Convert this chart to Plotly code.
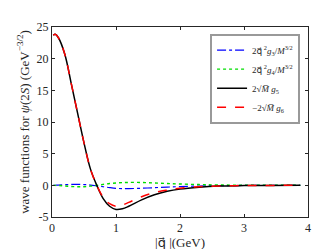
import plotly.graph_objects as go

q = [0.02, 0.05, 0.1, 0.2, 0.3, 0.4, 0.5, 0.6, 0.7, 0.8, 0.9, 1.0, 1.1, 1.2, 1.4, 1.6, 1.8, 2.0, 2.3, 2.6, 3.0, 3.4, 3.88]
g3 = [0.0, 0.01, 0.04, 0.1, 0.15, 0.16, 0.12, 0.04, -0.08, -0.22, -0.36, -0.47, -0.52, -0.52, -0.46, -0.37, -0.28, -0.2, -0.11, -0.06, -0.02, -0.01, 0.0]
g4 = [0.0, -0.01, -0.03, -0.1, -0.18, -0.23, -0.22, -0.13, 0.0, 0.15, 0.28, 0.37, 0.43, 0.46, 0.45, 0.38, 0.29, 0.21, 0.12, 0.06, 0.02, 0.01, 0.0]
g5 = [23.7, 23.85, 23.3, 20.7, 16.1, 11.4, 6.7, 2.6, 0.0, -2.1, -3.3, -3.8, -3.7, -3.3, -2.3, -1.5, -0.95, -0.6, -0.3, -0.12, -0.04, -0.01, 0.0]
g6 = [23.7, 23.85, 23.3, 20.7, 16.1, 11.4, 6.7, 2.6, 0.0, -1.9, -2.9, -3.3, -3.1, -2.7, -1.8, -1.15, -0.75, -0.45, -0.22, -0.1, -0.03, -0.01, 0.0]

xticks = [0, 1, 2, 3, 4]
yticks = [-5, 0, 5, 10, 15, 20, 25]
yticktext = ["-5", "0", "5", "10", "15", "20", "25"]

serif = "Liberation Serif, DejaVu Serif, serif"
qvec = "<span style='font-family:DejaVu Sans'>q⃗</span>"

fig = go.Figure()
fig.add_trace(go.Scatter(x=q, y=g3, mode="lines", line=dict(color="#0000ff", dash="dashdot", width=1.2, shape="spline"),
                         name="2" + qvec + "<sup> 2</sup><i>g</i><sub>3</sub>/<i>M</i><sup>3/2</sup>"))
fig.add_trace(go.Scatter(x=q, y=g4, mode="lines", line=dict(color="#00dd00", dash="dot", width=1.4, shape="spline"),
                         name="2" + qvec + "<sup> 2</sup><i>g</i><sub>4</sub>/<i>M</i><sup>3/2</sup>"))
fig.add_trace(go.Scatter(x=q, y=g5, mode="lines", line=dict(color="#000000", width=1.5, shape="spline"),
                         name="2√<i>M̅</i> <i>g</i><sub>5</sub>"))
fig.add_trace(go.Scatter(x=q, y=g6, mode="lines", line=dict(color="#ff0000", dash="dash", width=1.5, shape="spline"),
                         name="−2√<i>M̅</i> <i>g</i><sub>6</sub>"))

axis_common = dict(showline=True, linecolor="#262626", linewidth=1, mirror="ticks", ticks="inside",
                   ticklen=3, tickcolor="#262626", showgrid=False, zeroline=False,
                   tickfont=dict(family=serif, size=12, color="#262626"))

fig.update_layout(
    width=332, height=249,
    margin=dict(l=44, r=32, t=17, b=34),
    paper_bgcolor="white", plot_bgcolor="white",
    font=dict(family=serif, color="#262626"),
    xaxis=dict(range=[0, 4], tickvals=xticks,
               title=dict(text="|" + qvec + " |(GeV)", font=dict(family=serif, size=13), standoff=0), **axis_common),
    yaxis=dict(range=[-5, 25], tickvals=yticks, ticktext=yticktext,
               title=dict(text="wave functions for <i>ψ</i>(2<i>S</i>) (GeV<sup>−3/2</sup>)", font=dict(family=serif, size=13), standoff=4), **axis_common),
    legend=dict(x=0.969, y=0.965, xanchor="right", yanchor="top", bgcolor="white",
                bordercolor="#999999", borderwidth=2, font=dict(family=serif, size=9, color="#262626"),
                tracegroupgap=0, itemwidth=30),
    showlegend=True,
)

fig.write_html("out.html")
